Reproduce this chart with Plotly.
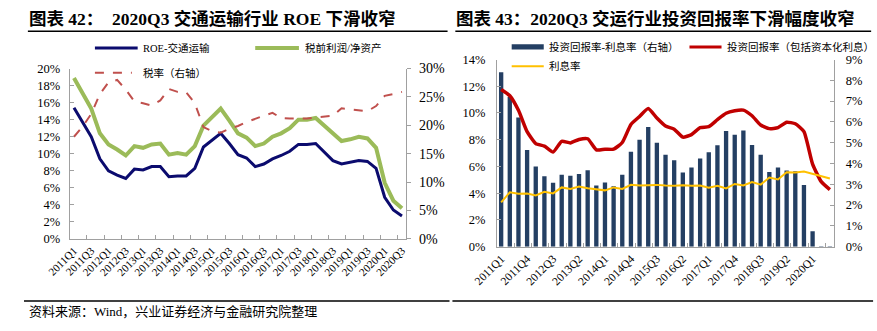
import plotly.graph_objects as go

W, H = 877, 331

quarters = ["2011Q1","2011Q2","2011Q3","2011Q4","2012Q1","2012Q2","2012Q3","2012Q4",
            "2013Q1","2013Q2","2013Q3","2013Q4","2014Q1","2014Q2","2014Q3","2014Q4",
            "2015Q1","2015Q2","2015Q3","2015Q4","2016Q1","2016Q2","2016Q3","2016Q4",
            "2017Q1","2017Q2","2017Q3","2017Q4","2018Q1","2018Q2","2018Q3","2018Q4",
            "2019Q1","2019Q2","2019Q3","2019Q4","2020Q1","2020Q2","2020Q3"]

# Chart 42 (left)
roe = [15.4,13.7,12.0,9.4,8.0,7.5,7.1,8.2,8.1,8.5,8.5,7.3,7.4,7.4,8.3,10.8,11.6,12.4,11.2,9.9,
       9.5,8.5,8.8,9.4,9.8,10.3,11.1,11.1,11.2,10.2,9.2,8.8,9.0,9.2,9.1,8.3,4.9,3.4,2.7]
pretax = [18.9,17.2,15.3,12.4,11.1,10.5,9.8,10.9,10.7,11.1,11.2,9.9,10.1,9.9,10.9,13.3,14.3,15.3,13.9,12.4,
          11.9,10.9,11.2,12.0,12.4,13.0,14.0,14.0,14.2,13.3,12.3,11.5,11.7,12.0,11.8,10.7,6.6,4.5,3.6]
tax = [18.0,19.8,22.0,25.5,27.6,28.0,26.3,24.2,23.9,23.5,24.4,26.4,25.9,25.8,23.9,19.7,19.0,18.7,19.4,19.9,
       20.6,21.2,21.7,22.2,21.3,21.2,21.2,21.2,21.4,21.5,21.7,23.0,22.8,22.7,22.5,23.4,25.2,25.5,25.9]

# Chart 43 (right)
spread = [8.39,7.20,6.21,4.65,3.85,3.39,3.07,3.46,3.41,3.49,3.67,2.94,3.09,2.91,3.46,4.56,5.14,5.75,5.00,4.42,
          4.15,3.56,3.81,4.24,4.54,4.88,5.56,5.38,5.58,4.89,4.42,3.59,3.81,3.66,3.62,2.96,0.74,-0.08,-0.08]
roic = [11.76,11.29,10.2,8.6,7.71,7.52,7.07,7.88,7.76,8.02,8.07,7.24,7.29,7.29,7.79,9.14,9.74,10.33,9.62,9.02,
        8.79,8.19,8.38,8.9,8.98,9.5,9.98,10.17,10.21,9.79,9.1,8.83,8.9,9.31,9.19,8.6,6.17,4.86,4.26]
interest = [3.31,4.07,3.95,3.98,3.83,4.1,3.98,4.43,4.31,4.5,4.36,4.31,4.21,4.43,4.31,4.62,4.57,4.6,4.62,4.57,
            4.55,4.6,4.55,4.57,4.4,4.55,4.36,4.69,4.57,4.83,4.64,5.17,5.02,5.57,5.55,5.62,5.45,5.26,5.1]

idx = list(range(len(quarters)))

NAVY = "#0b0b6e"
GREEN = "#9bbb59"
TAXRED = "#c0504d"
BAR = "#243f63"
RED = "#c00000"
YELLOW = "#ffc000"
AXC = "#a0a0a0"
FONT = "Liberation Serif, Noto Sans CJK SC, serif"
CJK = "Liberation Serif, Noto Sans CJK SC, sans-serif"

def px(x):
    return x / W

def py(y):
    return 1 - y / H

fig = go.Figure()

# Left chart traces
fig.add_trace(go.Scatter(x=idx, y=tax, xaxis="x", yaxis="y2", mode="lines",
                         line=dict(color=TAXRED, width=2, dash="dash"), name="税率（右轴）"))
fig.add_trace(go.Scatter(x=idx, y=pretax, xaxis="x", yaxis="y", mode="lines",
                         line=dict(color=GREEN, width=4), name="税前利润/净资产"))
fig.add_trace(go.Scatter(x=idx, y=roe, xaxis="x", yaxis="y", mode="lines",
                         line=dict(color=NAVY, width=3), name="ROE-交通运输"))

# Right chart traces: bars on base axis (right side), lines on overlay (left side)
fig.add_trace(go.Bar(x=idx, y=spread, xaxis="x2", yaxis="y3", marker=dict(color=BAR, line=dict(width=0)),
                     width=0.5, name="投资回报率-利息率（右轴）"))
fig.add_trace(go.Scatter(x=idx, y=roic, xaxis="x2", yaxis="y4", mode="lines",
                         line=dict(color=RED, width=3.5, shape="spline", smoothing=0.5),
                         name="投资回报率（包括资本化利息）"))
fig.add_trace(go.Scatter(x=idx, y=interest, xaxis="x2", yaxis="y4", mode="lines",
                         line=dict(color=YELLOW, width=2), name="利息率"))

ax_common = dict(showgrid=False, zeroline=False, showline=True, linecolor=AXC, linewidth=1)

left_ticks = list(range(0, 39, 2))
right_ticks = list(range(0, 39, 3))
minor_vals = [v - 0.5 for v in range(0, 39, 2)]

fig.update_layout(
    width=W, height=H, autosize=False,
    margin=dict(l=0, r=0, t=0, b=0),
    paper_bgcolor="white", plot_bgcolor="rgba(0,0,0,0)",
    showlegend=False,
    font=dict(family=FONT, color="#000000", size=12),
    bargap=0.5,
    xaxis=dict(domain=[px(47), px(393.5)], range=[-0.5, 38.5], anchor="y",
               tickmode="array", tickvals=left_ticks, ticktext=[quarters[i] for i in left_ticks],
               tickangle=-45, ticks="", tickfont=dict(size=11, family=FONT),
               minor=dict(tickmode="array", tickvals=minor_vals, ticks="inside", ticklen=4,
                          tickcolor=AXC, tickwidth=1),
               **ax_common),
    yaxis=dict(domain=[py(243), py(64.5)], range=[0, 20], anchor="x", side="left",
               tickmode="linear", tick0=0, dtick=2, ticksuffix="%",
               ticks="inside", ticklen=4, tickcolor=AXC, tickfont=dict(size=12.5, family=FONT),
               ticklabelstandoff=6, **ax_common),
    yaxis2=dict(range=[0, 30], overlaying="y", side="right", anchor="x",
                tickmode="linear", tick0=0, dtick=5, ticksuffix="%",
                ticks="outside", ticklen=4, tickcolor=AXC, tickfont=dict(size=14, family=FONT),
                ticklabelstandoff=5, **ax_common),
    xaxis2=dict(domain=[px(486.7), px(834)], range=[-0.5, 38.5], anchor="y3",
                tickmode="array", tickvals=right_ticks, ticktext=[quarters[i] for i in right_ticks],
                tickangle=-45, ticks="", tickfont=dict(size=11.5, family=FONT),
                minor=dict(tickmode="array", tickvals=minor_vals, ticks="inside", ticklen=4,
                           tickcolor=AXC, tickwidth=1),
                **ax_common),
    yaxis3=dict(domain=[py(251), py(55)], range=[0, 9], anchor="x2", side="right",
                tickmode="linear", tick0=0, dtick=1, ticksuffix="%",
                ticks="inside", ticklen=4, tickcolor=AXC, tickfont=dict(size=12.5, family=FONT),
                ticklabelstandoff=8, **ax_common),
    yaxis4=dict(range=[0, 14], overlaying="y3", side="left", anchor="x2",
                tickmode="linear", tick0=0, dtick=2, ticksuffix="%",
                ticks="inside", ticklen=4, tickcolor=AXC, tickfont=dict(size=12.5, family=FONT),
                ticklabelstandoff=8, **ax_common),
)

shapes = []
annotations = []

def hline(x0, x1, y, color="#000000", width=1.5, dash="solid"):
    shapes.append(dict(type="line", xref="paper", yref="paper", x0=px(x0), x1=px(x1),
                       y0=py(y), y1=py(y), line=dict(color=color, width=width, dash=dash)))

def text(x, y, s, size=10, bold=False, anchor="left"):
    annotations.append(dict(xref="paper", yref="paper", x=px(x), y=py(y), text=("<b>%s</b>" % s) if bold else s,
                            showarrow=False, xanchor=anchor, yanchor="middle",
                            font=dict(size=size, family=CJK, color="#000000")))

# Titles and rules
text(3, 13, "图表 42：&nbsp;&nbsp;2020Q3 交通运输行业 ROE 下滑收窄", size=17.5, bold=True)
text(443, 13, "图表 43：2020Q3 交运行业投资回报率下滑幅度收窄", size=17.5, bold=True)
hline(4, 436, 25.5)
hline(444, 872, 25.5)
hline(0, 438, 308)
hline(441, 874, 308)
text(3, 319, "资料来源：Wind，兴业证券经济与金融研究院整理", size=13)

# Left legend
hline(73, 117, 43, color=NAVY, width=3)
text(120, 43, "ROE-交通运输", size=10.5)
hline(238, 283, 43, color=GREEN, width=4)
text(287, 43, "税前利润/净资产", size=10.5)
hline(73, 111, 69, color=TAXRED, width=2, dash="dash")
text(120, 69, "税率（右轴）", size=10.5)

# Right legend
shapes.append(dict(type="rect", xref="paper", yref="paper", x0=px(502), x1=px(535),
                   y0=py(44.5), y1=py(39), fillcolor=BAR, line=dict(width=0)))
text(538, 42, "投资回报率-利息率（右轴）", size=10.5)
hline(685, 718, 42, color=RED, width=3)
text(722, 42, "投资回报率（包括资本化利息）", size=10.5)
hline(502, 535, 62, color=YELLOW, width=2)
text(538, 62, "利息率", size=10.5)

fig.update_layout(shapes=shapes, annotations=annotations)

fig.write_html("out.html")
